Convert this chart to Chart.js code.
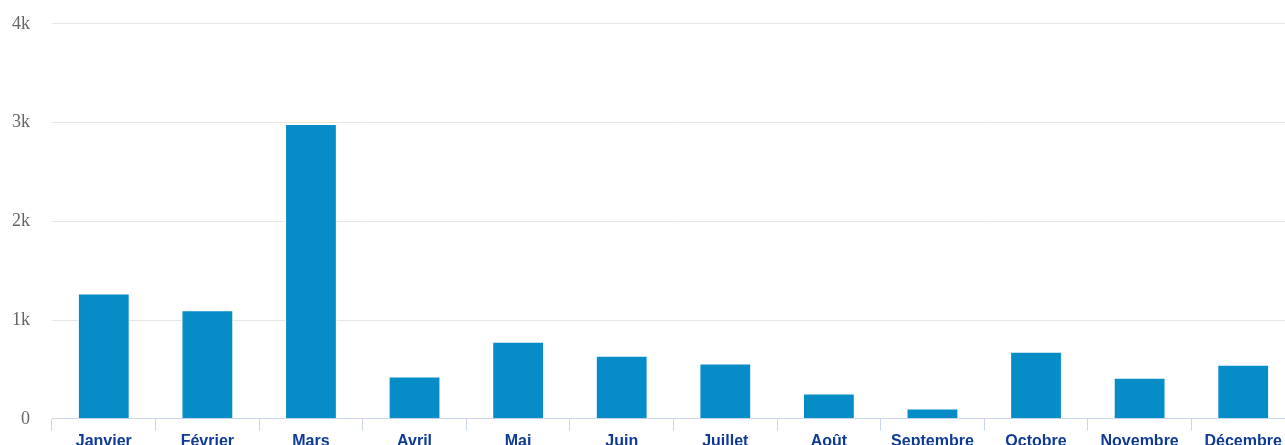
<!DOCTYPE html>
<html lang="fr">
<head>
<meta charset="utf-8">
<title>Répartition mensuelle</title>
<script src="https://cdn.jsdelivr.net/npm/chart.js@4/dist/chart.umd.min.js"></script>
<style>
    html, body {
        margin: 0;
        padding: 0;
        background: #ffffff;
        overflow: hidden;
    }
    #wrap {
        position: relative;
        width: 1300px;
        height: 461px;
        margin-top: -9px;
    }
</style>
</head>
<body>
<div id="wrap">
    <canvas id="monthChart" width="1300" height="461"></canvas>
</div>
<script>
// Chart data
const months = ['Janvier', 'Février', 'Mars', 'Avril', 'Mai', 'Juin',
    'Juillet', 'Août', 'Septembre', 'Octobre', 'Novembre', 'Décembre'];
const values = [1270, 1100, 2985, 428, 780, 638, 560, 256, 104, 678, 415, 547];
const yTicks = [0, 1000, 2000, 3000, 4000];

// Colors
const BAR_COLOR = '#068dc7';
const GRID_COLOR = '#e6e6e6';
const AXIS_COLOR = '#ccd6eb';
const LABEL_COLOR = '#0f3a98';

/**
 * Format y tick as 1k, 2k...
 */
function formatK(value) {
    return value === 0 ? '0' : (value / 1000) + 'k';
}

const ctx = document.getElementById('monthChart').getContext('2d');

new Chart(ctx, {
    type: 'bar',
    data: {
        labels: months,
        datasets: [{
            data: values,
            backgroundColor: BAR_COLOR,
            borderColor: '#ffffff',
            borderWidth: 1,
            categoryPercentage: 1,
            barPercentage: 0.5
        }]
    },
    options: {
        responsive: false,
        animation: false,
        layout: {
            padding: { top: 14, right: 5, left: 0, bottom: 0 }
        },
        plugins: {
            legend: { display: false },
            tooltip: { enabled: false }
        },
        scales: {
            x: {
                grid: {
                    offset: true,
                    drawOnChartArea: false,
                    drawTicks: true,
                    tickLength: 12,
                    color: AXIS_COLOR
                },
                border: {
                    display: true,
                    color: AXIS_COLOR,
                    width: 1
                },
                ticks: {
                    autoSkip: false,
                    maxRotation: 0,
                    minRotation: 0,
                    padding: 1,
                    color: LABEL_COLOR,
                    font: {
                        family: '"Liberation Sans", Arial, sans-serif',
                        size: 16,
                        weight: 'bold'
                    }
                }
            },
            y: {
                min: 0,
                max: 4000,
                afterFit: (scale) => { scale.width = 52; },
                afterBuildTicks: (scale) => {
                    scale.ticks = yTicks.map(v => ({ value: v }));
                },
                grid: {
                    color: GRID_COLOR,
                    drawTicks: false
                },
                border: { display: false },
                ticks: {
                    padding: 22,
                    color: '#666666',
                    callback: formatK,
                    font: {
                        family: '"Liberation Serif", "Times New Roman", serif',
                        size: 18
                    }
                }
            }
        }
    }
});
</script>
</body>
</html>
